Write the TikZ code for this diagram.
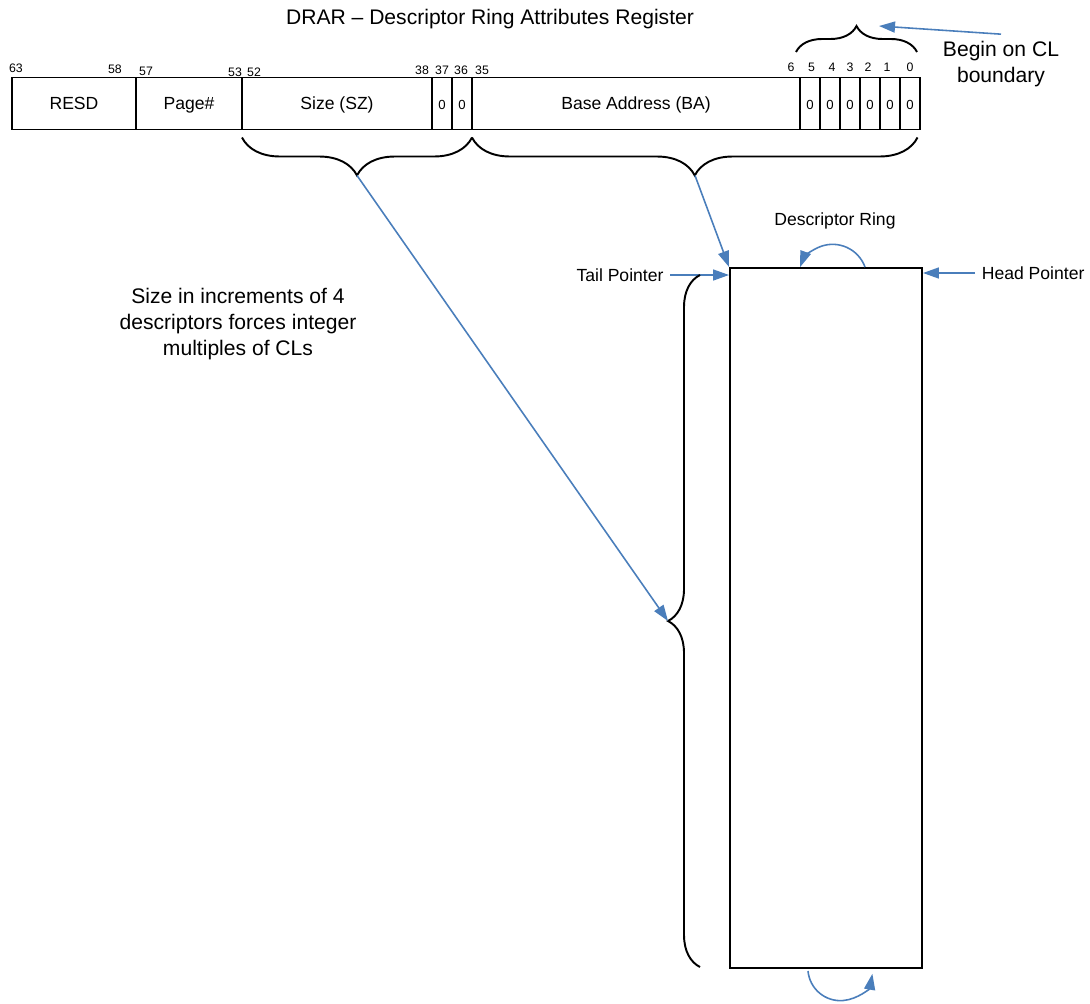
\documentclass[tikz,border=0pt]{standalone}
\usepackage{fontspec}
\setsansfont{Liberation Sans}
\usetikzlibrary{arrows.meta, decorations.pathreplacing}
\definecolor{cblue}{HTML}{4A7EBB}
\tikzset{
  every picture/.style={font=\sffamily, line width=1.1pt},
  field/.style={draw, minimum height=1.04cm, inner sep=0pt, text height=0.72em, text depth=0pt, font=\sffamily\fontsize{10}{12}\selectfont},
  zero/.style={field, minimum width=0.4cm, font=\sffamily\fontsize{7.5}{9}\selectfont},
  bitno/.style={anchor=base, inner sep=0pt, font=\sffamily\fontsize{7}{8}\selectfont},
  curly/.style={decorate, decoration={brace, amplitude=#1}},
  arrow/.style={-{Triangle[length=0.32cm, width=0.22cm]}, draw=cblue, line width=0.9pt},
  lbl/.style={font=\sffamily\fontsize{10}{12}\selectfont},
  note/.style={font=\sffamily\fontsize{12}{15}\selectfont, align=center},
}

\begin{document}
\begin{tikzpicture}
  \useasboundingbox (0,0) rectangle (21.8,-20.06);
  \node[note] (title) at (9.8,-0.38) {DRAR -- Descriptor Ring Attributes Register};
  % register fields
  \foreach \n/\l/\r/\t in {resd/0.24/2.72/RESD, page/2.72/4.84/Page\#, sz/4.84/8.64/Size (SZ), ba/9.44/16.0/Base Address (BA)} {
    \pgfmathsetmacro{\w}{\r-\l}
    \pgfmathsetmacro{\cx}{(\l+\r)/2}
    \node[field, minimum width=\w cm] (\n) at (\cx,-2.07) {\t};
  }
  \foreach \n/\x in {za/8.84, zb/9.24, c5/16.2, c4/16.6, c3/17.0, c2/17.4, c1/17.8, c0/18.2} {
    \node[zero] (\n) at (\x,-2.07) {0};
  }
  % bit numbers
  \foreach \x/\y/\b in {0.32/-1.45/63, 2.30/-1.47/58, 2.92/-1.50/57, 4.70/-1.53/53, 5.08/-1.53/52,
                        8.44/-1.48/38, 8.84/-1.48/37, 9.22/-1.48/36, 9.64/-1.48/35,
                        15.82/-1.434/6, 16.23/-1.434/5, 16.64/-1.434/4, 17.0/-1.434/3, 17.36/-1.434/2, 17.74/-1.434/1, 18.2/-1.434/0} {
    \node[bitno] (bit\b) at (\x,\y) {\b};
  }
  % braces under and over the register
  \draw[curly=0.76cm, decoration={mirror}] (4.84,-2.75) -- (9.44,-2.75);
  \draw[curly=0.76cm, decoration={mirror}] (9.44,-2.75) -- (18.35,-2.75);
  \draw[curly=0.52cm] (15.92,-1.04) -- (18.34,-1.04);
  \coordinate (sztip) at (7.14,-3.51);
  \coordinate (batip) at (13.9,-3.51);
  \coordinate (cltip) at (17.58,-0.52);
  \node[note] (clnote) at (20.02,-1.28) {Begin on CL\\boundary};
  \draw[arrow] (clnote.north) -- (cltip);
  % descriptor ring
  \node[draw, minimum width=3.84cm, minimum height=14cm, inner sep=0pt] (ring) at (16.52,-12.36) {};
  \node[lbl] (ringlbl) at (16.7,-4.42) {Descriptor Ring};
  \node[lbl] (tail) at (12.4,-5.5) {Tail Pointer};
  \node[lbl, anchor=west] (head) at (19.5,-5.46) {Head Pointer};
  \draw[arrow] (tail.east) -- (tail.east -| ring.west);
  \draw[arrow] (head.west) -- (head.west -| ring.east);
  \draw[arrow] ([xshift=0.78cm]ring.north) arc[start angle=20, end angle=160, radius=0.69];
  \draw[arrow] ([xshift=-0.36cm, yshift=-0.04cm]ring.south) arc[start angle=185, end angle=350, radius=0.65];
  \draw[curly=0.64cm] (14.0,-19.34) -- (14.0,-5.5);
  \coordinate (ringtip) at (13.36,-12.42);
  \node[note] (sznote) at (4.76,-6.48) {Size in increments of 4\\descriptors forces integer\\multiples of CLs};
  \draw[arrow] (sztip) -- (ringtip);
  \draw[arrow] (batip) -- (ring.north west);
\end{tikzpicture}
\end{document}
